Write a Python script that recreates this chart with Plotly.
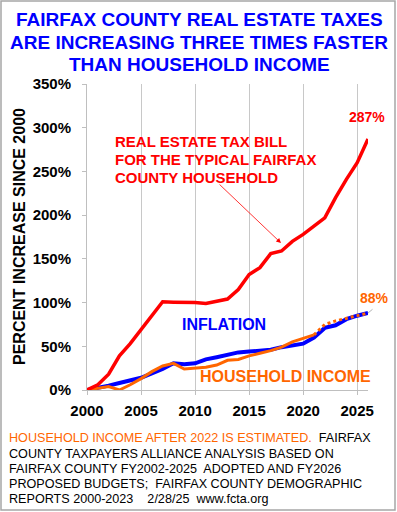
import plotly.graph_objects as go

years = list(range(2000, 2027))
tax_bill = [0, 6, 18, 39, 53, 69, 86, 101, 100.5, 100.5, 100, 99, 101, 104, 115, 132,
            140, 156, 159, 170, 178, 187, 197, 220, 241, 260, 287]
inflation = [0, 2, 5, 8, 11, 14, 19, 24, 30.5, 29.5, 30.5, 35, 37.5, 40, 43, 44, 45,
             46, 49, 51.5, 53, 60, 71, 74, 81, 85, 88]
income_years = list(range(2000, 2022))
income = [0, 2, 4, 0, 6, 13, 21, 27.5, 30.5, 24, 25, 26, 28.5, 34, 35, 39, 42, 45,
          49, 55, 59, 63]
est_years = [2021, 2022, 2023, 2024, 2025, 2026]
income_est = [63, 75, 79, 82, 85, 88]
tick_years = [2000, 2005, 2010, 2015, 2020, 2025]
tick_pcts = [0, 50, 100, 150, 200, 250, 300, 350]

RED = "#FF0000"
BLUE = "#0000FF"
ORANGE = "#FF6600"
FONT = "Liberation Sans, Arial, sans-serif"

W, H = 397, 512
L, T, R, B = 87, 84, 368, 390


def px(x):
    return (x - L) / (R - L)


def py(y):
    return (B - y) / (B - T)


fig = go.Figure()
fig.add_trace(go.Scatter(x=years, y=inflation, mode="lines",
                         line=dict(color=BLUE, width=4), cliponaxis=False))
fig.add_trace(go.Scatter(x=income_years, y=income, mode="lines",
                         line=dict(color=ORANGE, width=3), cliponaxis=False))
fig.add_trace(go.Scatter(x=est_years, y=income_est, mode="lines",
                         line=dict(color=ORANGE, width=3, dash="dot"), cliponaxis=False))
fig.add_trace(go.Scatter(x=years, y=tax_bill, mode="lines",
                         line=dict(color=RED, width=3.5), cliponaxis=False))

ann = []
# Title
title_lines = ["FAIRFAX COUNTY REAL ESTATE TAXES",
               "ARE INCREASING THREE TIMES FASTER",
               "THAN HOUSEHOLD INCOME"]
for line, yc in zip(title_lines, [19, 42, 64]):
    ann.append(dict(text=line, x=px(199), y=py(yc), xref="paper", yref="paper",
                    xanchor="center", yanchor="middle", showarrow=False,
                    font=dict(family=FONT, size=19, color=BLUE, weight="bold")))
# Y axis title
ann.append(dict(text="PERCENT INCREASE SINCE 2000", x=px(19), y=0.5, xref="paper",
                yref="paper", textangle=-90, showarrow=False, xanchor="center",
                yanchor="middle",
                font=dict(family=FONT, size=16, color="black", weight="bold")))
# Red label
red_lines = ["REAL ESTATE TAX BILL", "FOR THE TYPICAL FAIRFAX", "COUNTY HOUSEHOLD"]
for line, yc in zip(red_lines, [141, 159, 177]):
    ann.append(dict(text=line, x=px(113), y=py(yc), xref="paper", yref="paper",
                    xanchor="left", yanchor="middle", showarrow=False,
                    font=dict(family=FONT, size=15, color=RED, weight="bold")))
# Arrow from label to red line
ann.append(dict(text="", x=px(281), y=py(243), xref="paper", yref="paper",
                ax=218 - 281, ay=183 - 243, showarrow=True, arrowhead=2,
                arrowsize=1.2, arrowwidth=0.8, arrowcolor=RED))
ann.append(dict(text="INFLATION", x=px(180), y=py(324), xref="paper", yref="paper",
                xanchor="left", yanchor="middle", showarrow=False,
                font=dict(family=FONT, size=16, color=BLUE, weight="bold")))
ann.append(dict(text="HOUSEHOLD INCOME", x=px(198), y=py(376), xref="paper",
                yref="paper", xanchor="left", yanchor="middle", showarrow=False,
                font=dict(family=FONT, size=16, color=ORANGE, weight="bold")))
# End labels
ann.append(dict(text=f"{tax_bill[-1]}%", x=years[-1], y=tax_bill[-1], xref="x", yref="y",
                xshift=-1, yshift=12, xanchor="center", yanchor="bottom", showarrow=False,
                font=dict(family=FONT, size=14, color=RED, weight="bold")))
ann.append(dict(text="", x=years[-1], y=income_est[-1], xref="x", yref="y",
                ax=6, ay=-5, showarrow=True, arrowhead=0, arrowwidth=0.6,
                arrowcolor="#808080"))
ann.append(dict(text=f"{income_est[-1]}%", x=years[-1], y=income_est[-1], xref="x",
                yref="y", xshift=6, yshift=5, xanchor="center", yanchor="bottom",
                showarrow=False,
                font=dict(family=FONT, size=14, color=ORANGE, weight="bold")))
# Footnote
foot = [
    f"<span style='color:{ORANGE}'>HOUSEHOLD INCOME AFTER 2022 IS ESTIMATED.</span>"
    "\u00a0 FAIRFAX",
    "COUNTY TAXPAYERS ALLIANCE ANALYSIS BASED ON",
    "FAIRFAX COUNTY FY2002-2025\u00a0 ADOPTED AND FY2026",
    "PROPOSED BUDGETS;\u00a0 FAIRFAX COUNTY DEMOGRAPHIC",
    "REPORTS 2000-2023\u00a0\u00a0\u00a0 2/28/25\u00a0 www.fcta.org",
]
for line, yc in zip(foot, [438, 453.5, 469, 484, 499]):
    ann.append(dict(text=line, x=px(7), y=py(yc), xref="paper", yref="paper",
                    xanchor="left", yanchor="middle", showarrow=False,
                    font=dict(family=FONT, size=12.6, color="black")))

fig.update_layout(
    width=W, height=H,
    margin=dict(l=L, r=W - R, t=T, b=H - B, pad=0),
    paper_bgcolor="white", plot_bgcolor="white",
    showlegend=False,
    annotations=ann,
    shapes=[dict(type="rect", xref="paper", yref="paper",
                 x0=px(1), x1=px(395), y0=py(510), y1=py(1),
                 line=dict(color="#A6A6A6", width=1.5), fillcolor="rgba(0,0,0,0)")],
    xaxis=dict(range=[2000, 2026], tickvals=tick_years, ticktext=[str(v) for v in tick_years],
               showgrid=True, gridcolor="#C8C8C8", gridwidth=1, zeroline=False,
               showline=True, linecolor="#BFBFBF", linewidth=1,
               ticks="outside", ticklen=4, tickcolor="#BFBFBF",
               ticklabelstandoff=3,
               tickfont=dict(family=FONT, size=15, color="black", weight="bold")),
    yaxis=dict(range=[0, 350], tickvals=tick_pcts, ticktext=[f"{v}%" for v in tick_pcts],
               showgrid=False, zeroline=False,
               showline=True, linecolor="#BFBFBF", linewidth=1,
               ticks="outside", ticklen=4, tickcolor="#BFBFBF",
               ticklabelstandoff=8,
               tickfont=dict(family=FONT, size=15, color="black", weight="bold")),
)

fig.write_html("out.html", config={"displayModeBar": False},
               post_script="document.body.style.margin='0';"
                           "document.body.style.overflow='hidden';")
